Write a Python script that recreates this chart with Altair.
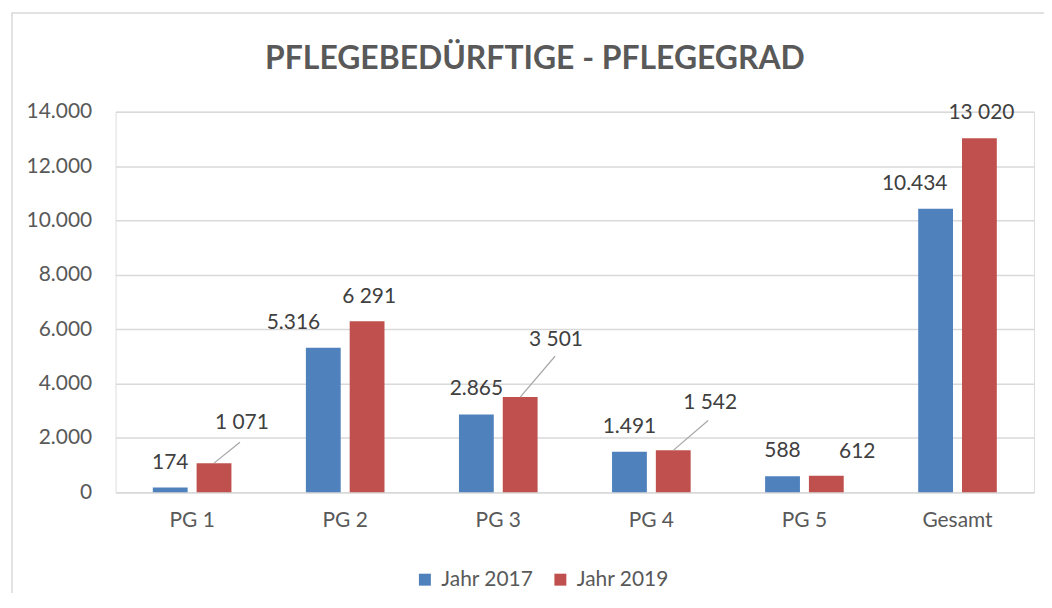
import altair as alt
import pandas as pd

categories = ["PG 1", "PG 2", "PG 3", "PG 4", "PG 5", "Gesamt"]
series = ["Jahr 2017", "Jahr 2019"]
values_2017 = [174, 5316, 2865, 1491, 588, 10434]
values_2019 = [1071, 6291, 3501, 1542, 612, 13020]
y_ticks = [0, 2000, 4000, 6000, 8000, 10000, 12000, 14000]
title_text = "PFLEGEBEDÜRFTIGE - PFLEGEGRAD"

# data-label nudges in pixels (styling, kept apart from the values)
label_dx_2017 = [0, -30, 0, 0, 0, -21]
label_dy_2017 = [-25, -25, -25, -25, -25, -25]
label_dx_2019 = [28, 2, 36, 37, 31, 2]
label_dy_2019 = [-40, -24, -57, -48, -24, -25]
leader_2019 = [True, False, True, True, False, False]
leader_dx_2019 = [26, 0, 35, 35, 0, 0]
leader_dy_2019 = [-21, 0, -41, -30, 0, 0]

rows = []
for i, c in enumerate(categories):
    rows.append(dict(cat=c, series=series[0], value=values_2017[i],
                     ldx=label_dx_2017[i], ldy=label_dy_2017[i],
                     leader=False, rdx=0, rdy=0))
    rows.append(dict(cat=c, series=series[1], value=values_2019[i],
                     ldx=label_dx_2019[i], ldy=label_dy_2019[i],
                     leader=leader_2019[i], rdx=leader_dx_2019[i], rdy=leader_dy_2019[i]))
df = pd.DataFrame(rows)

FONT = "Lato"
FS = 21
AXIS_COLOR = "#595959"
GRID = "#d9d9d9"

x_enc = alt.X("cat:N", sort=categories,
              scale=alt.Scale(paddingInner=0, paddingOuter=0),
              axis=alt.Axis(title=None, labelAngle=0, ticks=False,
                            domainColor=GRID, domainWidth=1.5,
                            labelPadding=17, labelFontSize=FS,
                            labelColor=AXIS_COLOR, labelFont=FONT))
xo_enc = alt.XOffset("series:N", sort=series,
                     scale=alt.Scale(paddingInner=0.205, paddingOuter=0.85))
y_enc = alt.Y("value:Q",
              scale=alt.Scale(domain=[0, 14000], nice=False),
              axis=alt.Axis(title=None, values=y_ticks, ticks=False, domain=False,
                            gridColor=GRID, gridWidth=1.5, labelPadding=24,
                            labelFontSize=FS, labelColor=AXIS_COLOR, labelFont=FONT,
                            labelExpr="replace(format(datum.value, ','), ',', '.')"))

base = alt.Chart(df)

bars = base.mark_bar().encode(
    x=x_enc, xOffset=xo_enc, y=y_enc,
    color=alt.Color("series:N", sort=series,
                    scale=alt.Scale(domain=series, range=["#4f81bd", "#c0504d"]),
                    legend=alt.Legend(title=None, orient="none", direction="horizontal",
                                      legendX=300, legendY=459, symbolType="square",
                                      symbolSize=144, symbolStrokeWidth=0,
                                      labelFontSize=FS, labelFont=FONT,
                                      labelColor=AXIS_COLOR, labelOffset=6,
                                      columnPadding=16, padding=0))
)

leaders = base.transform_filter("datum.leader").mark_rule(
    color="#a6a6a6", strokeWidth=1.2
).encode(
    x=x_enc, xOffset=xo_enc, y=y_enc,
    x2=alt.value({"expr": "scale('x', datum.cat) + scale('xOffset', datum.series) + bandwidth('xOffset') / 2 + datum.rdx"}),
    y2=alt.value({"expr": "scale('y', datum.value) + datum.rdy"}),
)

labels = base.transform_calculate(
    label="datum.series == 'Jahr 2017' ? replace(format(datum.value, ','), ',', '.') : replace(format(datum.value, ','), ',', ' ')"
).mark_text(baseline="middle", align="center", fontSize=FS, font=FONT,
            color="#404040", dx={"expr": "datum.ldx"}, dy={"expr": "datum.ldy"}).encode(
    x=x_enc, xOffset=xo_enc, y=y_enc, text="label:N")

frame = alt.Chart(alt.Data(values=[{"f": 1}])).mark_rect(
    fill=None, stroke="#d9d9d9", strokeWidth=1.5
).encode(x=alt.value(-104), x2=alt.value(1000), y=alt.value(-99), y2=alt.value(600))

title = alt.Chart(alt.Data(values=[{"t": title_text}])).mark_text(
    font=FONT, fontSize=32, fontWeight="bold", color=AXIS_COLOR,
    align="center", baseline="alphabetic"
).encode(x=alt.value(421), y=alt.value(-43), text="t:N")

chart = alt.layer(frame, bars, leaders, labels, title).properties(
    width=922, height=382,
    autosize=alt.AutoSizeParams(type="none"),
    padding={"left": 108, "top": 103, "right": 10, "bottom": 100},
).configure_view(stroke=None).configure(background="white")

chart.save("out.html", embed_options={"renderer": "svg", "actions": False})
